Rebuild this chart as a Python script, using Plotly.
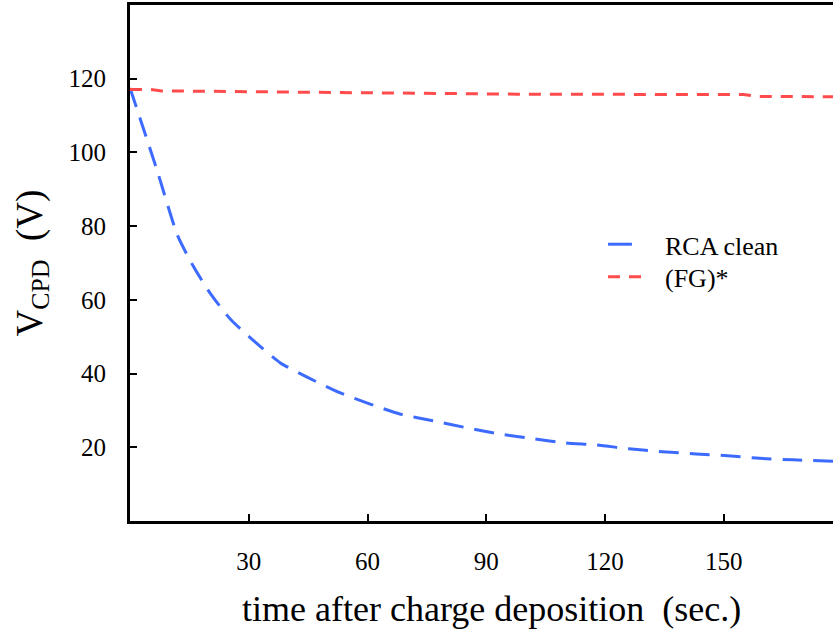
import plotly.graph_objects as go

# Surface potential decay after charge deposition
time_rca = [0, 7, 12, 16, 20.5, 25.5, 31.5, 38, 45, 53, 60.5, 68, 76.5, 85, 93.5,
            102, 110, 118, 126, 134.5, 143, 151, 159, 167.5, 177.6]
vcpd_rca = [117.5, 94.6, 77.5, 69.1, 61.4, 54.6, 48.7, 42.9, 38.9, 34.8, 31.8,
            29.1, 27.2, 25.3, 23.6, 22.3, 21.2, 20.6, 19.6, 18.8, 18.2, 17.7,
            17.0, 16.6, 16.2]

time_fg = [0, 5, 8, 50, 65, 95, 98, 155, 159, 177.6]
vcpd_fg = [117.1, 117.1, 116.7, 116.3, 116.1, 116.0, 115.8, 115.7, 115.2, 115.1]

series_names = ["RCA clean", "(FG)*"]
x_ticks = [30, 60, 90, 120, 150]
y_ticks = [20, 40, 60, 80, 100, 120]

FONT = "Liberation Serif"
BLUE, RED = "#3D6BFF", "#FF4B4B"
BLUE_DASH, RED_DASH = "20px,11px", "12px,9px"

fig = go.Figure()
fig.add_trace(go.Scatter(
    x=time_rca, y=vcpd_rca, mode="lines", name=series_names[0],
    line=dict(color=BLUE, width=3, dash=BLUE_DASH, shape="spline",
              smoothing=0.6),
))
fig.add_trace(go.Scatter(
    x=time_fg, y=vcpd_fg, mode="lines", name=series_names[1],
    line=dict(color=RED, width=3, dash=RED_DASH),
))

# compact legend drawn in paper coordinates
legend_rows = [(0.5364, BLUE, "solid", 0.714), (0.4733, RED, RED_DASH, 0.727)]
shapes = []
annotations = []
for name, (yrow, color, dash, xend) in zip(series_names, legend_rows):
    shapes.append(dict(type="line", xref="paper", yref="paper",
                       x0=0.680, x1=xend, y0=yrow, y1=yrow,
                       line=dict(color=color, width=3, dash=dash)))
    annotations.append(dict(text=name, xref="paper", yref="paper",
                            x=0.758, y=yrow - 0.004, xanchor="left",
                            yanchor="middle", showarrow=False,
                            font=dict(family=FONT, size=26, color="black")))

annotations += [
    dict(text="time after charge deposition  (sec.)", xref="paper",
         yref="paper", x=0.514, y=-0.17, xanchor="center", yanchor="middle",
         showarrow=False, font=dict(family=FONT, size=36, color="black")),
    dict(text="V<sub>CPD</sub>  (V)", xref="paper", yref="paper",
         x=-0.14, y=0.5, xanchor="center", yanchor="middle",
         textangle=-90, showarrow=False,
         font=dict(family=FONT, size=37, color="black")),
]

fig.update_layout(
    width=833, height=631,
    margin=dict(l=130, r=0, t=5, b=110),
    paper_bgcolor="white", plot_bgcolor="white",
    font=dict(family=FONT, color="black"),
    showlegend=False,
    xaxis=dict(
        range=[0, 177.6], tickvals=x_ticks, ticks="inside", ticklen=7,
        tickwidth=2, tickcolor="black", showline=True, linewidth=3,
        linecolor="black", mirror=True, showgrid=False, zeroline=False,
        tickfont=dict(family=FONT, size=25, color="black"),
        ticklabelstandoff=16,
    ),
    yaxis=dict(
        range=[0, 140], tickvals=y_ticks, ticks="inside", ticklen=7,
        tickwidth=2, tickcolor="black", showline=True, linewidth=3,
        linecolor="black", showgrid=False, zeroline=False,
        tickfont=dict(family=FONT, size=25, color="black"),
        ticklabelstandoff=16,
    ),
    shapes=shapes,
    annotations=annotations,
)

fig.write_html("out.html")
